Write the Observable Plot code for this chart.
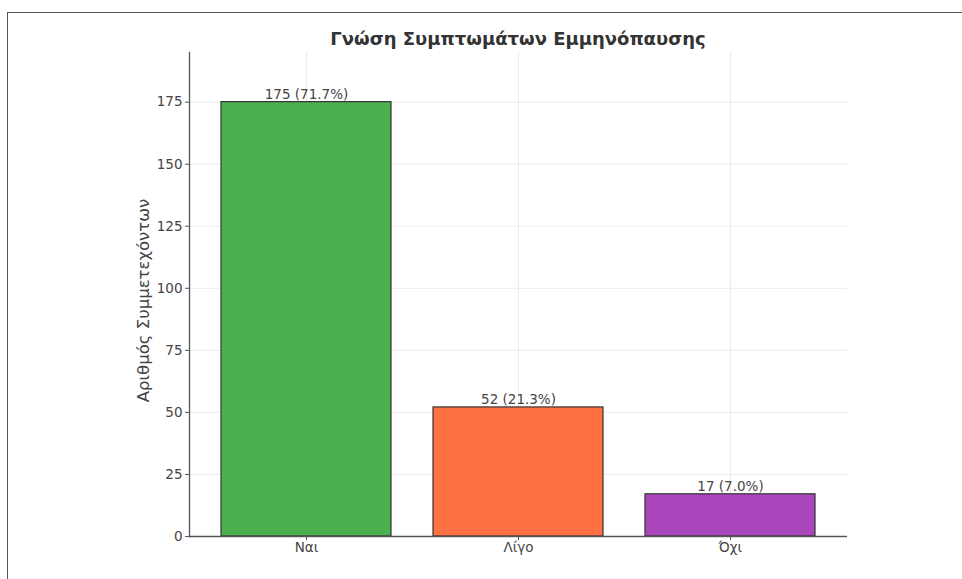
<!DOCTYPE html>
<html>
<head>
<meta charset="utf-8">
<script src="https://cdn.jsdelivr.net/npm/d3@7"></script>
<script src="https://cdn.jsdelivr.net/npm/@observablehq/plot@0.6"></script>
<style>
  html, body { margin: 0; padding: 0; background: #fff; overflow: hidden; }
  #wrap { position: relative; width: 962px; height: 579px; font-family: "DejaVu Sans", sans-serif; }
  #border { position: absolute; left: 7px; top: 12px; width: 2000px; height: 2000px; border-left: 1.5px solid #555; border-top: 1.5px solid #555; }
  #title { position: absolute; left: 189px; width: 658px; top: 28px; text-align: center; font-weight: bold; font-size: 18px; color: #333; }
  #chart { position: absolute; left: 0; top: 0; }
</style>
</head>
<body>
<div id="wrap">
  <div id="border"></div>
  <div id="chart"></div>
  <div id="title">Γνώση Συμπτωμάτων Εμμηνόπαυσης</div>
</div>
<script>
const categories = ["Ναι", "Λίγο", "Όχι"];
const counts = [175, 52, 17];
const labels = ["175 (71.7%)", "52 (21.3%)", "17 (7.0%)"];
const colors = ["#4CAF50", "#FF7043", "#AB47BC"];
const yTicks = [0, 25, 50, 75, 100, 125, 150, 175];

const data = categories.map((c, i) => ({category: c, count: counts[i], label: labels[i], color: colors[i]}));

const chart = Plot.plot({
  width: 962,
  height: 579,
  marginLeft: 189,
  marginRight: 115,
  marginTop: 52,
  marginBottom: 43,
  style: {fontFamily: "DejaVu Sans, sans-serif", fontSize: "13.5px", color: "#444", background: "transparent"},
  x: {domain: categories, paddingInner: 0.2, paddingOuter: 0.145, label: null},
  y: {domain: [0, 195], label: null},
  marks: [
    Plot.gridY(yTicks, {stroke: "#ddd", strokeOpacity: 0.6, strokeWidth: 1}),
    Plot.gridX(categories, {stroke: "#ddd", strokeOpacity: 0.6, strokeWidth: 1}),
    Plot.barY(data, {x: "category", y: "count", fill: "color", stroke: "#333", strokeWidth: 1.2}),
    Plot.text(data, {x: "category", y: "count", text: "label", lineAnchor: "bottom", dy: -3, fontSize: 13.5, fill: "#444"}),
    Plot.ruleY([0], {stroke: "#555", strokeWidth: 1.3}),
    Plot.frame({anchor: "left", stroke: "#555", strokeWidth: 1.3}),
    Plot.axisY(yTicks, {tickSize: 4, tickPadding: 3, stroke: "#555", fill: "#444", fontSize: 13.5, label: null}),
    Plot.axisX({tickSize: 4, tickPadding: 2, stroke: "#555", fill: "#444", fontSize: 13.5, label: null}),
    Plot.text(["Αριθμός Συμμετεχόντων"], {frameAnchor: "left", textAnchor: "middle", dx: -46, dy: 6, rotate: -90, fontSize: 16.5, fill: "#444"})
  ]
});
document.getElementById("chart").appendChild(chart);
</script>
</body>
</html>
